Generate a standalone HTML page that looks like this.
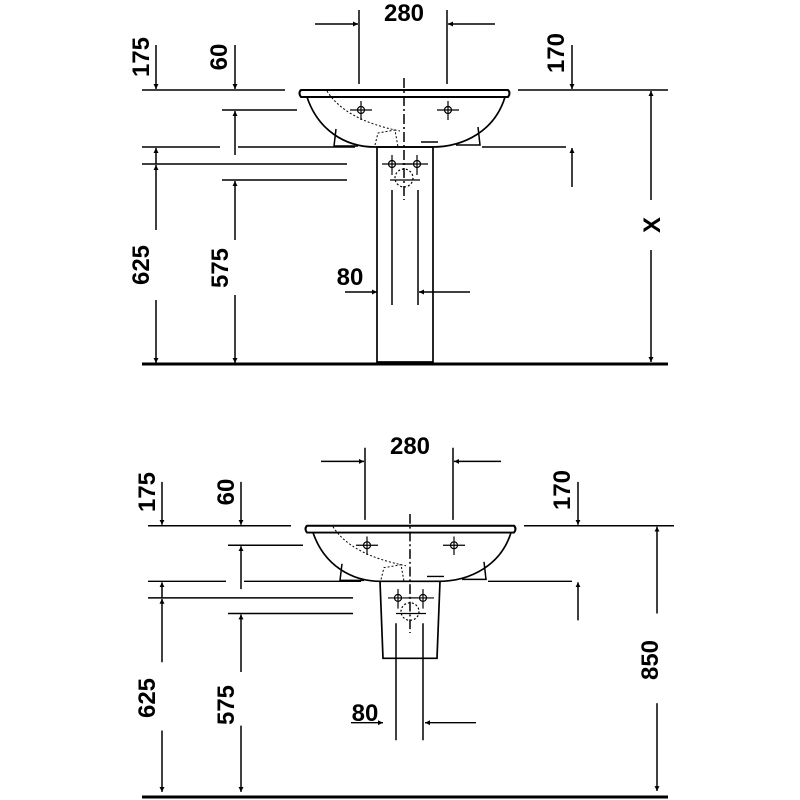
<!DOCTYPE html>
<html><head><style>html,body{margin:0;padding:0;background:#fff}svg{display:block}</style></head>
<body>
<svg width="800" height="800" viewBox="0 0 800 800" xmlns="http://www.w3.org/2000/svg" font-family="Liberation Sans, sans-serif" font-weight="bold" font-size="24">
<defs>
<marker id="a" viewBox="0 0 10 10" refX="10" refY="5" markerWidth="5" markerHeight="7" orient="auto" markerUnits="userSpaceOnUse"><path d="M0,0 L10,5 L0,10 z" fill="#000"/></marker>
<g id="common" stroke="#000" stroke-width="1.5" fill="none">
  <line x1="359" y1="10" x2="359" y2="84"/><line x1="447" y1="10" x2="447" y2="84"/>
  <line x1="315" y1="24" x2="358" y2="24" marker-end="url(#a)"/>
  <line x1="495" y1="24" x2="448" y2="24" marker-end="url(#a)"/>
  <line x1="142" y1="90" x2="285" y2="90"/>
  <line x1="222" y1="110" x2="297" y2="110"/>
  <line x1="142" y1="147" x2="220" y2="147"/><line x1="238" y1="147" x2="355" y2="147"/>
  <line x1="142" y1="164" x2="347" y2="164"/>
  <line x1="222" y1="180" x2="347" y2="180"/>
  <line x1="156" y1="45" x2="156" y2="89" marker-end="url(#a)"/>
  <line x1="156" y1="164" x2="156" y2="148" marker-end="url(#a)"/>
  <line x1="156" y1="230" x2="156" y2="165" marker-end="url(#a)"/>
  <line x1="156" y1="300" x2="156" y2="363" marker-end="url(#a)"/>
  <line x1="235" y1="45" x2="235" y2="89" marker-end="url(#a)"/>
  <line x1="235" y1="155" x2="235" y2="111" marker-end="url(#a)"/>
  <line x1="235" y1="240" x2="235" y2="181" marker-end="url(#a)"/>
  <line x1="235" y1="295" x2="235" y2="363" marker-end="url(#a)"/>
  <line x1="518" y1="90" x2="668" y2="90"/>
  <line x1="482" y1="147" x2="566" y2="147"/>
  <line x1="572" y1="45" x2="572" y2="89" marker-end="url(#a)"/>
  <line x1="572" y1="187" x2="572" y2="148" marker-end="url(#a)"/>
  <path d="M301,90 L508,90 Q511,93 508,97 L301,97 Q298,93 301,90 Z" stroke-width="2"/>
  <path d="M307,97 C318,130 345,147 375,147 L432,147 C465,147 495,130 505,97" stroke-width="1.7"/>
  <path d="M336,129 L334,146 L358,146 M478,127 L480,145 L456,145"/>
  <line x1="404" y1="78" x2="404" y2="200" stroke-dasharray="10,3,2,3"/>
  <path d="M327,91 Q345,120 400,131 M375,145 L378,133 L395,130 L398,147" stroke-dasharray="2,2" stroke-width="1"/>
  <line x1="421" y1="142" x2="438" y2="142"/>
  <g stroke-width="1.2">
    <line x1="350" y1="110" x2="372" y2="110"/><line x1="361" y1="101" x2="361" y2="120"/><circle cx="361" cy="110" r="3.5"/>
    <line x1="437" y1="110" x2="459" y2="110"/><line x1="448" y1="101" x2="448" y2="120"/><circle cx="448" cy="110" r="3.5"/>
    <line x1="382" y1="164" x2="412" y2="164"/><line x1="392" y1="155" x2="392" y2="175"/><circle cx="392" cy="164" r="3.5"/>
    <line x1="402" y1="164" x2="428" y2="164"/><line x1="417" y1="155" x2="417" y2="175"/><circle cx="417" cy="164" r="3.5"/>
    <line x1="390" y1="180" x2="420" y2="180"/><circle cx="404" cy="178" r="9" stroke-dasharray="2,2"/>
  </g>
  <line x1="345" y1="292" x2="377" y2="292" marker-end="url(#a)"/>
  <line x1="470" y1="292" x2="419" y2="292" marker-end="url(#a)"/>
</g>
</defs>

<use href="#common"/>
<g stroke="#000" fill="none">
  <rect x="377" y="147" width="56" height="215" stroke-width="1.7"/>
  <line x1="392" y1="190" x2="392" y2="305" stroke-width="1.5"/>
  <line x1="418" y1="190" x2="418" y2="305" stroke-width="1.5"/>
  <line x1="142" y1="364" x2="668" y2="364" stroke-width="3"/>
  <line x1="651" y1="200" x2="651" y2="91" stroke-width="1.5" marker-end="url(#a)"/>
  <line x1="651" y1="250" x2="651" y2="362" stroke-width="1.5" marker-end="url(#a)"/>
</g>
<g fill="#000">
  <text x="404" y="21" text-anchor="middle">280</text>
  <text x="350" y="285" text-anchor="middle">80</text>
  <text transform="translate(149,57) rotate(-90)" text-anchor="middle">175</text>
  <text transform="translate(227,57) rotate(-90)" text-anchor="middle">60</text>
  <text transform="translate(564,53) rotate(-90)" text-anchor="middle">170</text>
  <text transform="translate(149,265) rotate(-90)" text-anchor="middle">625</text>
  <text transform="translate(228,268) rotate(-90)" text-anchor="middle">575</text>
  <text transform="translate(660,225) rotate(-90)" text-anchor="middle">X</text>
</g>

<g transform="translate(6,438) scale(1,0.975)">
  <use href="#common"/>
  <g stroke="#000" fill="none">
    <path d="M374,147 L377,226 L431,226 L434,147" stroke-width="1.7"/>
    <line x1="390" y1="190" x2="390" y2="310" stroke-width="1.5"/>
    <line x1="417" y1="190" x2="417" y2="310" stroke-width="1.5"/>
    <line x1="651" y1="180" x2="651" y2="91" stroke-width="1.5" marker-end="url(#a)"/>
    <line x1="651" y1="272" x2="651" y2="362" stroke-width="1.5" marker-end="url(#a)"/>
  </g>
</g>
<line x1="142" y1="797" x2="668" y2="797" stroke="#000" stroke-width="3"/>
<g fill="#000">
  <text x="410" y="454" text-anchor="middle">280</text>
  <text x="365" y="721" text-anchor="middle">80</text>
  <text transform="translate(155,492) rotate(-90)" text-anchor="middle">175</text>
  <text transform="translate(234,492) rotate(-90)" text-anchor="middle">60</text>
  <text transform="translate(570,490) rotate(-90)" text-anchor="middle">170</text>
  <text transform="translate(155,698) rotate(-90)" text-anchor="middle">625</text>
  <text transform="translate(234,705) rotate(-90)" text-anchor="middle">575</text>
  <text transform="translate(658,660) rotate(-90)" text-anchor="middle">850</text>
</g>
</svg>
</body></html>
